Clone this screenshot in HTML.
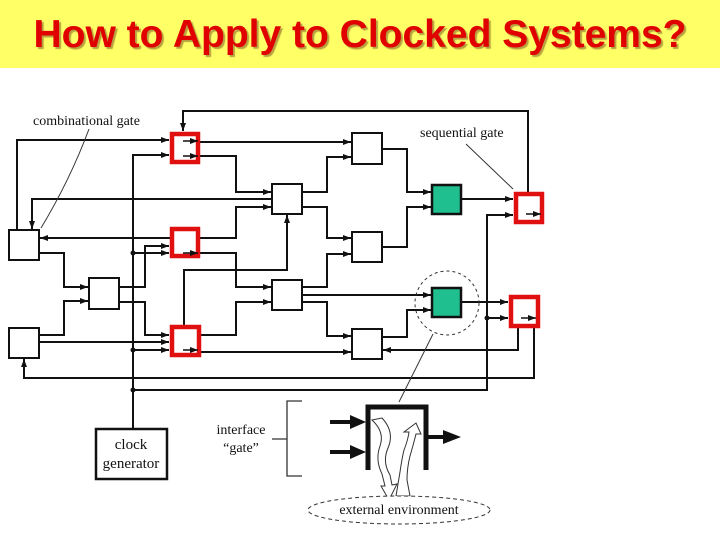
<!DOCTYPE html>
<html><head><style>
body{margin:0;width:720px;height:540px;background:#fff;overflow:hidden;font-family:"Liberation Sans",sans-serif}
.t{position:absolute;left:0;top:0;width:720px;height:68px;background:#ffff66}
.t div{position:absolute;left:0;width:720px;top:13px;text-align:center;font-weight:bold;font-size:39px;line-height:44px;color:#e00000;text-shadow:2px 2px 1px #b8a040;letter-spacing:0px}
svg{position:absolute;left:0;top:0}
text{font-family:"Liberation Serif",serif;fill:#111}
</style></head><body>
<div class="t"><div>How to Apply to Clocked Systems?</div></div>
<svg width="720" height="540" viewBox="0 0 720 540">
<defs><marker id="a" markerWidth="8" markerHeight="6" refX="8" refY="3" orient="auto" markerUnits="userSpaceOnUse"><path d="M0,0L8,3L0,6z" fill="#111"/></marker>
<marker id="b" markerWidth="8" markerHeight="6" refX="8" refY="3" orient="auto" markerUnits="userSpaceOnUse"><path d="M0,0L8,3L0,6z" fill="#111"/></marker></defs>
<g fill="none" stroke="#111" stroke-width="2" marker-end="url(#a)">
<path d="M528,192V111H183V131"/>
<path d="M17,230V140H169"/>
<path d="M133,430V155H169"/>
<path d="M133,253H169"/>
<path d="M133,350H169"/>
<path d="M199,142H351"/>
<path d="M199,156H236V192H271"/>
<path d="M170,238H40"/>
<path d="M199,238H236V207H271"/>
<path d="M119,287H145V246H169"/>
<path d="M199,253H236V287H271"/>
<path d="M39,253H64V287H88"/>
<path d="M39,335H64V301H88"/>
<path d="M39,342H169"/>
<path d="M119,302H145V335H169"/>
<path d="M184,325V270H287V215"/>
<path d="M201,335H236V302H271"/>
<path d="M201,352H351"/>
<path d="M272,199H32V229"/>
<path d="M302,192H327V157H351"/>
<path d="M302,207H327V238H351"/>
<path d="M302,287H327V254H351"/>
<path d="M302,295H431"/>
<path d="M302,302H327V336H351"/>
<path d="M382,149H407V192H431"/>
<path d="M382,247H407V207H431"/>
<path d="M462,199H513"/>
<path d="M133,390H487V215H513"/>
<path d="M487,318H508"/>
<path d="M382,337H407V310H431"/>
<path d="M462,302H508"/>
<path d="M518,327V350H383"/>
<path d="M534,327V378H24V359"/>
</g>
<g fill="#111"><circle cx="133" cy="253" r="2.5"/><circle cx="133" cy="350" r="2.5"/><circle cx="133" cy="390" r="2.5"/><circle cx="487" cy="318" r="2.5"/></g>
<g fill="#fff" stroke="#111" stroke-width="2">
<rect x="9" y="230" width="30" height="30"/><rect x="9" y="328" width="30" height="30"/>
<rect x="89" y="278" width="30" height="31"/><rect x="272" y="184" width="30" height="30"/>
<rect x="352" y="133" width="30" height="31"/><rect x="352" y="232" width="30" height="30"/>
<rect x="272" y="280" width="30" height="30"/><rect x="352" y="329" width="30" height="30"/>
</g>
<g fill="#1fbf8f" stroke="#111" stroke-width="2.5">
<rect x="432" y="185" width="29" height="29"/><rect x="432" y="288" width="29" height="29"/></g>
<g fill="#fff" stroke="#e01010" stroke-width="4.5">
<rect x="172" y="134" width="26" height="28"/><rect x="172" y="229" width="26" height="27"/>
<rect x="172" y="327" width="27" height="28"/><rect x="516" y="194" width="26" height="28"/>
<rect x="511" y="297" width="27" height="29"/></g>
<g fill="none" stroke="#111" stroke-width="1.5" marker-end="url(#b)">
<path d="M183,141H198"/><path d="M183,156H198"/><path d="M183,253H198"/><path d="M183,350H198"/>
<path d="M526,214H541"/><path d="M521,318H536"/></g>
<circle cx="447" cy="303" r="32" fill="none" stroke="#333" stroke-dasharray="3,3"/>
<text x="33" y="125" font-size="14">combinational gate</text>
<text x="420" y="137" font-size="14">sequential gate</text>
<g stroke="#333" stroke-width="1" fill="none"><path d="M89,129Q70,180 41,228"/><path d="M466,144L513,189"/><path d="M433,334L399,402"/></g>
<rect x="96" y="429" width="71" height="50" fill="#fff" stroke="#111" stroke-width="2.5"/>
<text x="131" y="449" font-size="15" text-anchor="middle">clock</text>
<text x="131" y="468" font-size="15" text-anchor="middle">generator</text>
<text x="241" y="434" font-size="14" text-anchor="middle">interface</text>
<text x="241" y="452" font-size="14" text-anchor="middle">“gate”</text>
<path d="M302,401H287V476H302M272,439H287" fill="none" stroke="#333" stroke-width="1.3"/>
<path d="M368,470V407H426V470" fill="none" stroke="#111" stroke-width="5"/>
<g stroke="#111" stroke-width="4"><path d="M330,422H352"/><path d="M330,452H352"/><path d="M428,437H445"/></g>
<g fill="#111"><path d="M350,415L366,422L350,429z"/><path d="M350,445L366,452L350,459z"/><path d="M443,430L461,437L443,444z"/></g>
<g fill="#fff" stroke="#333" stroke-width="1">
<path d="M372,420L382,418Q395,432 388,448Q382,462 390,475L392,485L397,484L389,500L381,486L385,486L382,474Q375,460 380,446Q385,432 372,420z"/>
<path d="M396,496L400,472Q402,458 404,450Q408,440 409,432L404,432L416,423L421,434L416,434Q413,446 410,456Q407,468 407,480L410,496z"/></g>
<ellipse cx="399" cy="510" rx="91" ry="14" fill="#fff" stroke="#333" stroke-dasharray="4,3"/>
<text x="399" y="514" font-size="14" text-anchor="middle">external environment</text>
</svg>
</body></html>
